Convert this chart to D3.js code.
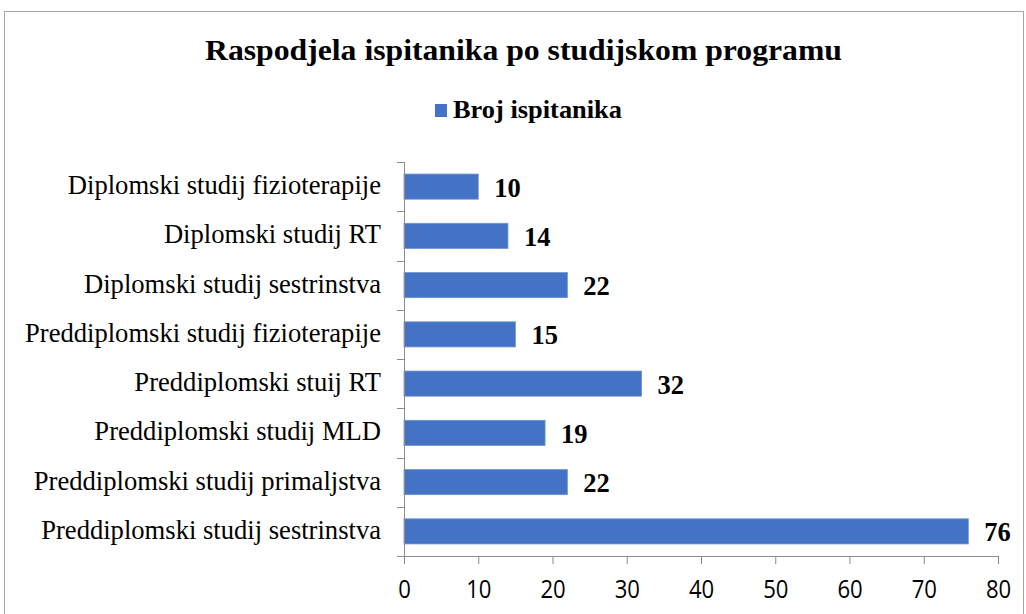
<!DOCTYPE html>
<html><head><meta charset="utf-8">
<script src="https://cdn.jsdelivr.net/npm/d3@7"></script>
<style>body{margin:0;background:#fff}</style>
</head><body>
<svg id="c" width="1026" height="614"></svg>
<script>
const categories = [
  "Diplomski studij fizioterapije",
  "Diplomski studij RT",
  "Diplomski studij sestrinstva",
  "Preddiplomski studij fizioterapije",
  "Preddiplomski stuij RT",
  "Preddiplomski studij MLD",
  "Preddiplomski studij primaljstva",
  "Preddiplomski studij sestrinstva"
];
const values = [10, 14, 22, 15, 32, 19, 22, 76];
const xTicks = [0, 10, 20, 30, 40, 50, 60, 70, 80];
const seriesName = "Broj ispitanika";
const titleText = "Raspodjela ispitanika po studijskom programu";

const svg = d3.select("#c");
const serif = "'Liberation Serif','Times New Roman',serif";
const blue = "#4472C4";

svg.append("rect").attr("x", 4.5).attr("y", 11.5).attr("width", 1019).attr("height", 640)
  .attr("fill", "#fff").attr("stroke", "#a6a6a6").attr("stroke-width", 1);

svg.append("text").attr("x", 205).attr("y", 60)
  .attr("font-family", serif).attr("font-weight", "bold").attr("font-size", 30)
  .attr("textLength", 637).attr("lengthAdjust", "spacingAndGlyphs")
  .text(titleText);

const lg = svg.append("g");
lg.append("rect").attr("x", 435).attr("y", 104).attr("width", 12).attr("height", 13).attr("fill", blue);
lg.append("text").attr("x", 453).attr("y", 118).attr("font-family", serif)
  .attr("font-weight", "bold").attr("font-size", 25)
  .attr("textLength", 169).attr("lengthAdjust", "spacingAndGlyphs").text(seriesName);

const x = d3.scaleLinear().domain([0, 80]).range([404, 998]);
const y = d3.scaleBand().domain(categories).range([162, 556]).paddingInner(0.49).paddingOuter(0.245);

const axisColor = "#8c8c8c";

// bars
svg.append("g").selectAll("rect").data(values).join("rect")
  .attr("x", x(0)).attr("y", (d, i) => y(categories[i]))
  .attr("width", d => x(d) - x(0)).attr("height", y.bandwidth())
  .attr("fill", blue).attr("stroke", "#6f93d3").attr("stroke-width", 0.8);

// value labels
svg.append("g").selectAll("text").data(values).join("text")
  .attr("x", d => x(d) + 16).attr("y", (d, i) => y(categories[i]) + y.bandwidth() / 2 + 10)
  .attr("font-family", serif).attr("font-weight", "bold")
  .attr("font-size", 26.5).text(d => d);

// x axis
const xa = svg.append("g").attr("transform", "translate(0,556)")
  .call(d3.axisBottom(x).tickValues(xTicks).tickSize(8).tickPadding(0).tickFormat(d3.format("d")));
xa.select(".domain").attr("stroke", axisColor).attr("d", `M${x(0)},0.5H${x(80)}`);
xa.selectAll(".tick line").attr("stroke", axisColor);
xa.selectAll(".tick text").attr("font-family", "'Open Sans','Liberation Sans',sans-serif")
  .attr("font-size", 26).attr("fill", "#000").attr("dy", null).attr("y", 42.5)
  .attr("transform", "scale(0.85,1)");

// y axis
const ya = svg.append("g");
ya.append("line").attr("x1", x(0) + 0.5).attr("x2", x(0) + 0.5).attr("y1", 162).attr("y2", 556)
  .attr("stroke", axisColor);
ya.selectAll("line.t").data(d3.range(categories.length + 1)).join("line").attr("class", "t")
  .attr("x1", x(0) - 7).attr("x2", x(0))
  .attr("y1", i => Math.round(162 + i * y.step()) + 0.5)
  .attr("y2", i => Math.round(162 + i * y.step()) + 0.5)
  .attr("stroke", axisColor);
ya.selectAll("text").data(categories).join("text")
  .attr("x", 381).attr("y", d => y(d) + y.bandwidth() / 2 + 7.5)
  .attr("text-anchor", "end").attr("font-family", serif).attr("font-size", 26.6)
  .text(d => d);
</script>
</body></html>
